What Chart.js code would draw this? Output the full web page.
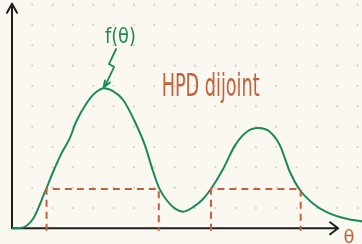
<!DOCTYPE html>
<html>
<head>
<meta charset="utf-8">
<script src="https://cdn.jsdelivr.net/npm/chart.js@4"></script>
<style>
  html, body { margin: 0; padding: 0; background: #faf8f0; }
  canvas { display: block; }
</style>
</head>
<body>
<canvas id="chart" width="362" height="244"></canvas>
<script>
// density curve f(theta) (1 unit = one grid dot)
const thetaValues = [0, 0.39, 1.03, 1.62, 2.02, 2.44, 2.85, 3.15, 3.67, 4.08, 4.54, 4.97, 5.47, 6.05, 6.54, 6.95, 7.25, 7.61, 8.02, 8.43, 8.92, 9.35, 9.74, 10.39, 10.97, 11.54, 12.11, 12.69, 13.18, 13.67, 14.17, 14.82, 15.48, 16.46, 17.22];
const densityValues = [0, 0.01, 0.46, 1.79, 2.77, 3.70, 4.45, 5.23, 6.15, 6.65, 6.89, 6.75, 6.31, 5.23, 4.08, 2.77, 1.95, 1.38, 0.97, 0.82, 1.05, 1.39, 1.87, 2.93, 4.08, 4.74, 4.93, 4.74, 4.08, 2.77, 1.87, 1.21, 0.80, 0.47, 0.34];

// HPD region: two disjoint intervals at one density level
const hpdIntervals = [[1.70, 7.22], [9.79, 14.20]];
const hpdLevel = 1.93;

// annotation bits
const curveLabel = 'f(θ)';
const regionLabel = 'HPD dijoint';
const axisLabel = 'θ';
const squiggleX = [5.12, 4.77, 5.02, 4.62, 4.50];
const squiggleY = [8.82, 8.08, 7.93, 7.09, 6.93];

const GREEN = '#1b8a56';
const RUST = '#c4613a';
const INK = '#1e1e1e';

const curve = thetaValues.map((t, i) => ({ x: t, y: densityValues[i] }));
const hpdSets = hpdIntervals.map(([a, b]) => ({
  data: [{ x: a, y: -0.12 }, { x: a, y: hpdLevel }, { x: b, y: hpdLevel }, { x: b, y: -0.12 }],
  borderColor: RUST,
  borderWidth: 2,
  borderDash: [7, 5],
  tension: 0,
  pointRadius: 0,
  fill: false,
}));

const sketch = {
  id: 'sketch',
  beforeDatasetsDraw(chart) {
    const { ctx, scales: { x, y } } = chart;
    ctx.save();
    // dot grid
    ctx.fillStyle = '#d2d1c6';
    for (let i = 1; i <= 17; i++) {
      for (let j = 1; j <= 11; j++) {
        ctx.beginPath();
        ctx.arc(x.getPixelForValue(i), y.getPixelForValue(j), 1.1, 0, Math.PI * 2);
        ctx.fill();
      }
    }
    // axes with arrows
    const x0 = x.getPixelForValue(0), y0 = y.getPixelForValue(0);
    const yTop = y.getPixelForValue(11.05), xEnd = x.getPixelForValue(16.04);
    ctx.strokeStyle = INK;
    ctx.lineWidth = 2;
    ctx.lineCap = 'round';
    ctx.lineJoin = 'round';
    ctx.beginPath();
    ctx.moveTo(x0, y0); ctx.lineTo(x0, yTop);
    ctx.moveTo(x0 - 5, yTop + 9); ctx.lineTo(x0, yTop); ctx.lineTo(x0 + 5, yTop + 9);
    ctx.moveTo(x0, y0); ctx.lineTo(xEnd, y0);
    ctx.moveTo(xEnd - 8, y0 - 6); ctx.lineTo(xEnd, y0); ctx.lineTo(xEnd - 8, y0 + 6);
    ctx.stroke();
    ctx.restore();
  },
  afterDatasetsDraw(chart) {
    const { ctx, scales: { x, y } } = chart;
    ctx.save();
    ctx.lineCap = 'round';
    ctx.lineJoin = 'round';
    // squiggly arrow to the peak
    ctx.strokeStyle = GREEN;
    ctx.lineWidth = 1.8;
    ctx.beginPath();
    squiggleX.forEach((v, i) => {
      const px = x.getPixelForValue(v), py = y.getPixelForValue(squiggleY[i]);
      i ? ctx.lineTo(px, py) : ctx.moveTo(px, py);
    });
    const tx = x.getPixelForValue(squiggleX[4]), ty = y.getPixelForValue(squiggleY[4]);
    ctx.moveTo(tx + 1.5, ty - 7); ctx.lineTo(tx, ty); ctx.lineTo(tx + 6.5, ty - 5);
    ctx.stroke();

    // labels squeezed to the hand-written widths
    const fitText = (txt, px, py, w, size, color) => {
      ctx.font = size + 'px "DejaVu Sans"';
      const k = w / ctx.measureText(txt).width;
      ctx.save();
      ctx.translate(px, py);
      ctx.scale(k, 1);
      ctx.fillStyle = color;
      ctx.textBaseline = 'alphabetic';
      ctx.fillText(txt, 0, 0);
      ctx.restore();
    };
    fitText(curveLabel, x.getPixelForValue(4.57), y.getPixelForValue(9.1), 31, 21, GREEN);
    fitText(regionLabel, x.getPixelForValue(7.36), y.getPixelForValue(6.52), 98, 32, RUST);
    fitText(axisLabel, x.getPixelForValue(16.3), y.getPixelForValue(-0.7), 11, 17, RUST);
    ctx.restore();
  }
};

new Chart(document.getElementById('chart'), {
  type: 'line',
  data: {
    datasets: [
      ...hpdSets,
      {
        data: curve,
        borderColor: GREEN,
        borderWidth: 2,
        cubicInterpolationMode: 'monotone',
        pointRadius: 0,
        fill: false,
      },
    ],
  },
  options: {
    responsive: false,
    animation: false,
    devicePixelRatio: 1,
    layout: { padding: 0 },
    scales: {
      x: { type: 'linear', min: -0.590, max: 17.216, display: false },
      y: { type: 'linear', min: -0.772, max: 11.23, display: false },
    },
    plugins: { legend: { display: false }, tooltip: { enabled: false } },
  },
  plugins: [sketch],
});
</script>
</body>
</html>
